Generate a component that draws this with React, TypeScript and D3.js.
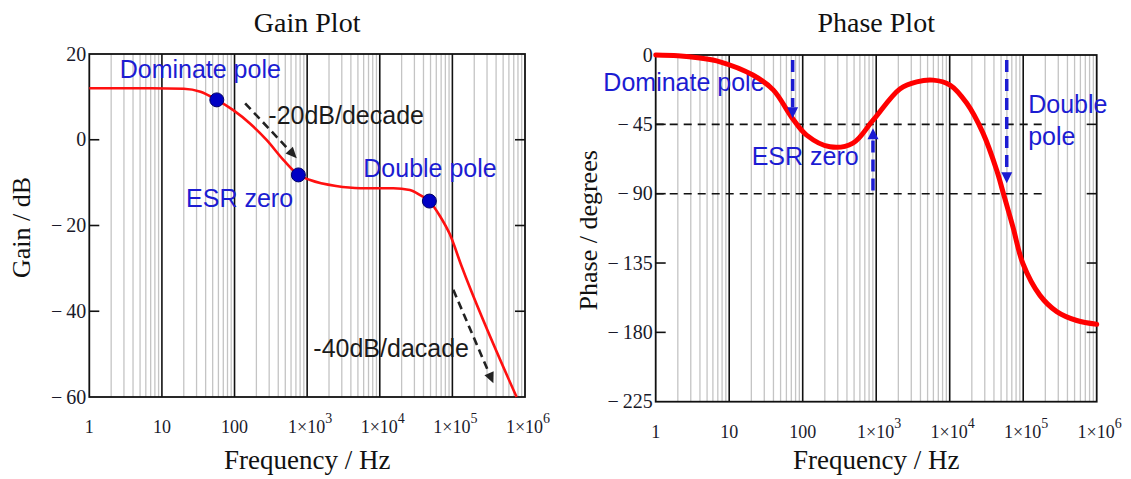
import * as d3 from "d3";
import { useEffect, useRef } from "react";

// frequency axis (shared by both plots)
const freqTicks = [1, 10, 100, 1e3, 1e4, 1e5, 1e6];
const freqTickBase = ["1", "10", "100", "1×10", "1×10", "1×10", "1×10"];
const freqTickExp = ["", "", "", "3", "4", "5", "6"];

// gain plot
const gainTicks = [20, 0, -20, -40, -60];
const gainFreq = [1, 7, 20, 34, 57, 96, 163, 278, 470, 757, 1100, 2500, 5400, 15400, 26000, 36000, 48200, 68000, 92000, 134000, 766000];
const gainDb = [12, 12, 11.9, 11.2, 9.3, 6.9, 3.8, -0.1, -4.7, -8.2, -9.4, -10.8, -11.3, -11.3, -11.7, -12.9, -14.3, -17.9, -22, -29.5, -60];
const markerFreq = [57, 757, 48200];
const markerDb = [9.3, -8.2, -14.3];
const gainNotes = [
  { text: "Dominate pole", f: 2.62, v: 14.4, blue: true },
  { text: "-20dB/decade", f: 292, v: 3.6, blue: false },
  { text: "ESR zero", f: 21.5, v: -15.7, blue: true },
  { text: "Double pole", f: 5930, v: -8.8, blue: true },
  { text: "-40dB/dacade", f: 1217, v: -50.7, blue: false },
];
const gainArrows = [
  { f1: 140, v1: 8.5, f2: 719, v2: -4.3 },
  { f1: 103000, v1: -35, f2: 367000, v2: -56.8 },
];

// phase plot
const phaseTicks = [0, -45, -90, -135, -180, -225];
const phaseFreq = [1, 2, 4, 7.5, 21, 40, 71, 113, 235, 483, 906, 2100, 3560, 5930, 10100, 17000, 28400, 43600, 53100, 72600, 99300, 169000, 286000, 535000, 1e6];
const phaseDeg = [0, -0.5, -2, -4.4, -13, -22.8, -40.5, -52, -59.6, -57.2, -42.3, -22, -17.4, -16.3, -19.5, -31.2, -50.7, -74.8, -88.9, -111.7, -135.5, -156, -166.5, -172.3, -174.8];
const phaseRefLevels = [-45, -90];
const phaseRefEnd = 1.8e5;
const phaseNotes = [
  { text: "Dominate pole", f: 0.194, v: -23.4 },
  { text: "ESR zero", f: 20.2, v: -71.7 },
  { text: "Double", f: 117000, v: -37.9 },
  { text: "pole", f: 117000, v: -58.5 },
];
const phaseArrows = [
  { f: 73, v1: -3.3, v2: -41 },
  { f: 904, v1: -88, v2: -47.5 },
  { f: 59700, v1: -3.3, v2: -83.2 },
];

const SERIF = "'Liberation Serif', 'Times New Roman', serif";
const SANS = "'Liberation Sans', Arial, sans-serif";
const BLUE = "#1c1cd2";

type Sel = d3.Selection<SVGGElement, unknown, null, undefined>;

function arrow(g: Sel, x1: number, y1: number, x2: number, y2: number, color: string, w: number, dash: string, hl: number, hw: number) {
  const a = Math.atan2(y2 - y1, x2 - x1);
  const bx = x2 - hl * Math.cos(a);
  const by = y2 - hl * Math.sin(a);
  g.append("line")
    .attr("x1", x1).attr("y1", y1).attr("x2", bx).attr("y2", by)
    .attr("stroke", color).attr("stroke-width", w).attr("stroke-dasharray", dash);
  const px = (-Math.sin(a) * hw) / 2;
  const py = (Math.cos(a) * hw) / 2;
  g.append("path")
    .attr("d", `M${x2},${y2}L${bx + px},${by + py}L${bx - px},${by - py}Z`)
    .attr("fill", color);
}

function frame(svg: d3.Selection<SVGSVGElement, unknown, null, undefined>, box: { x0: number; x1: number; y0: number; y1: number }, yDomain: [number, number], yTicks: number[], title: string, yTitle: string) {
  const x = d3.scaleLog().domain([1, 1e6]).range([box.x0, box.x1]);
  const y = d3.scaleLinear().domain(yDomain).range([box.y0, box.y1]);
  const g = svg.append("g");

  // minor grid
  const minors: number[] = [];
  for (let d = 0; d < 6; d++) for (let k = 2; k <= 9; k++) minors.push(k * 10 ** d);
  g.selectAll(".minor").data(minors).join("line")
    .attr("x1", (d) => x(d)).attr("x2", (d) => x(d))
    .attr("y1", box.y0).attr("y2", box.y1)
    .attr("stroke", "#c4c4c4").attr("stroke-width", 1.3);
  // decades
  g.selectAll(".major").data(freqTicks.slice(1, -1)).join("line")
    .attr("x1", (d) => x(d)).attr("x2", (d) => x(d))
    .attr("y1", box.y0).attr("y2", box.y1)
    .attr("stroke", "#111").attr("stroke-width", 1.6);

  // ticks in both sides
  yTicks.slice(1, -1).forEach((t) => {
    g.append("line").attr("x1", box.x0).attr("x2", box.x0 + 10).attr("y1", y(t)).attr("y2", y(t)).attr("stroke", "#111").attr("stroke-width", 1.6);
    g.append("line").attr("x1", box.x1 - 10).attr("x2", box.x1).attr("y1", y(t)).attr("y2", y(t)).attr("stroke", "#111").attr("stroke-width", 1.6);
  });

  g.append("rect")
    .attr("x", box.x0).attr("y", box.y0)
    .attr("width", box.x1 - box.x0).attr("height", box.y1 - box.y0)
    .attr("fill", "none").attr("stroke", "#111").attr("stroke-width", 1.8);

  // y labels
  g.selectAll(".yl").data(yTicks).join("text")
    .attr("x", box.x0 - 3).attr("y", (d) => y(d) + 6.5)
    .attr("text-anchor", "end")
    .attr("font-family", SERIF).attr("font-size", 20).attr("fill", "#1a1a2a")
    .text((d) => (d < 0 ? `\u2212\u2009${Math.abs(d)}` : `${d}`));

  // x labels
  freqTicks.forEach((f, i) => {
    const t = g.append("text")
      .attr("x", x(f) + (freqTickExp[i] ? 3 : 0)).attr("y", box.y1 + 36)
      .attr("text-anchor", "middle")
      .attr("font-family", SERIF).attr("font-size", 18).attr("fill", "#1a1a2a")
      .text(freqTickBase[i]);
    if (freqTickExp[i]) t.append("tspan").attr("dy", -10).attr("font-size", 14).text(freqTickExp[i]);
  });

  const cx = (box.x0 + box.x1) / 2;
  g.append("text").attr("x", cx).attr("y", 32).attr("text-anchor", "middle")
    .attr("font-family", SERIF).attr("font-size", 28).attr("fill", "#111").text(title);
  g.append("text").attr("x", cx).attr("y", 469).attr("text-anchor", "middle")
    .attr("font-family", SERIF).attr("font-size", 27).attr("fill", "#111").text("Frequency / Hz");
  const ym = (box.y0 + box.y1) / 2 + 2;
  g.append("text")
    .attr("transform", `translate(${box.x0 - 59},${ym}) rotate(-90)`)
    .attr("text-anchor", "middle")
    .attr("font-family", SERIF).attr("font-size", 26).attr("fill", "#111").text(yTitle);

  return { x, y };
}

export default function App() {
  const ref = useRef<SVGSVGElement | null>(null);

  useEffect(() => {
    if (!ref.current) return;
    const svg = d3.select(ref.current);
    svg.selectAll("*").remove();

    // ---------- gain ----------
    const gb = { x0: 89.3, x1: 525, y0: 54, y1: 397 };
    const gs = frame(svg, gb, [20, -60], gainTicks, "Gain Plot", "Gain / dB");
    const gg = svg.append("g");

    gainNotes.forEach((n) => {
      gg.append("text").attr("x", gs.x(n.f)).attr("y", gs.y(n.v))
        .attr("font-family", SANS).attr("font-size", 25)
        .attr("fill", n.blue ? BLUE : "#1b1b1b").text(n.text);
    });

    const gainPts = gainFreq.map((f, i) => [gs.x(f), gs.y(gainDb[i])] as [number, number]);
    gg.append("path")
      .attr("d", d3.line().curve(d3.curveMonotoneX)(gainPts))
      .attr("fill", "none").attr("stroke", "#ff1010").attr("stroke-width", 2.6);

    gainArrows.forEach((a) =>
      arrow(gg, gs.x(a.f1), gs.y(a.v1), gs.x(a.f2), gs.y(a.v2), "#222", 2.6, "8,5", 11, 10)
    );

    gg.selectAll(".dot").data(markerFreq).join("circle")
      .attr("cx", (d) => gs.x(d)).attr("cy", (_d, i) => gs.y(markerDb[i]))
      .attr("r", 7).attr("fill", "#0000c4").attr("stroke", "#000066").attr("stroke-width", 1);

    // ---------- phase ----------
    const pb = { x0: 655.7, x1: 1096.7, y0: 55, y1: 401.7 };
    const ps = frame(svg, pb, [0, -225], phaseTicks, "Phase Plot", "Phase / degrees");
    const pg = svg.append("g");

    phaseRefLevels.forEach((lv) => {
      pg.append("line")
        .attr("x1", ps.x(1)).attr("x2", ps.x(phaseRefEnd))
        .attr("y1", ps.y(lv)).attr("y2", ps.y(lv))
        .attr("stroke", "#111").attr("stroke-width", 1.6).attr("stroke-dasharray", "8,6");
    });

    phaseNotes.forEach((n) => {
      pg.append("text").attr("x", ps.x(n.f)).attr("y", ps.y(n.v))
        .attr("font-family", SANS).attr("font-size", 25).attr("fill", BLUE).text(n.text);
    });

    const phasePts = phaseFreq.map((f, i) => [ps.x(f), ps.y(phaseDeg[i])] as [number, number]);
    pg.append("path")
      .attr("d", d3.line().curve(d3.curveCatmullRom.alpha(0.5))(phasePts))
      .attr("fill", "none").attr("stroke", "#ff0000").attr("stroke-width", 5)
      .attr("stroke-linecap", "round");

    phaseArrows.forEach((a) =>
      arrow(pg, ps.x(a.f), ps.y(a.v1), ps.x(a.f), ps.y(a.v2), BLUE, 3.5, "12,7", 11, 11)
    );
  }, []);

  return (
    <svg
      ref={ref}
      width={1131}
      height={479}
      style={{ position: "absolute", left: 0, top: 0, background: "#fff" }}
      role="img"
      aria-label="Gain and phase Bode plots"
    />
  );
}
